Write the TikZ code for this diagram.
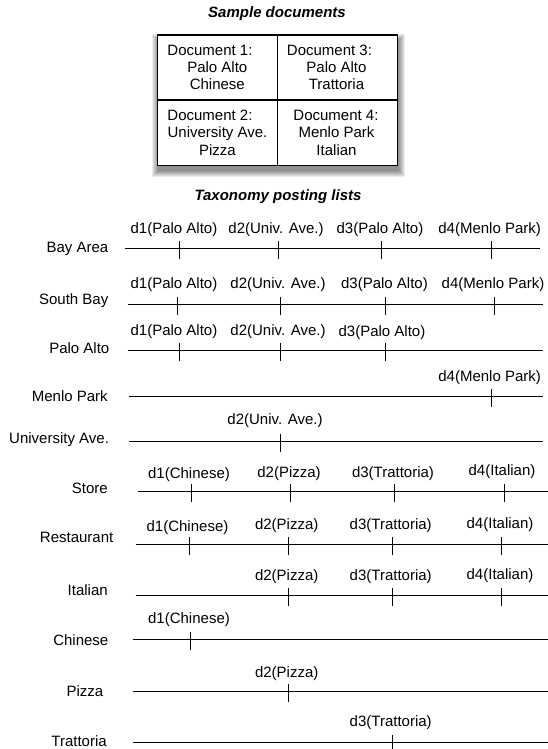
\documentclass[tikz,border=0pt]{standalone}
\usepackage{fontspec}
\setmainfont{Liberation Sans}
\tikzset{
  lbl/.style={font=\fontsize{15}{17}\selectfont, inner sep=0pt, outer sep=0pt},
  rowlbl/.style={lbl, anchor=east},
  celltxt/.style={lbl, anchor=base},
  titletxt/.style={font=\fontsize{15}{17}\selectfont\bfseries\itshape, inner sep=0pt},
  axisline/.style={line width=1pt, black},
  tickmark/.style={line width=1pt, black},
  cellbox/.style={draw, line width=1.2pt, fill=white, inner sep=0pt, minimum width=120pt, minimum height=65pt},
}
\newcommand\PostRow[7]{%
  \node[rowlbl] (#1-name) at (#3,#4) {#2};
  \coordinate (#1-a) at (#5,#7);
  \coordinate (#1-b) at (#6,#7);
  \draw[axisline] (#1-a) -- (#1-b);
}
\newcommand\PostTick[7]{%
  \coordinate (#1-#2-t) at (#3,#4-8);
  \coordinate (#1-#2-u) at (#3,#4+10);
  \draw[tickmark] (#1-#2-t) -- (#1-#2-u);
  \node[lbl] (#1-#2-l) at (#5,#6) {#7};
}
\begin{document}
\begin{tikzpicture}[x=1pt,y=-1pt]
\useasboundingbox (0,0) rectangle (548,749);

% titles
\node[titletxt] (t1) at (277,13.5) {Sample documents};
\node[titletxt] (t2) at (278,196.5) {Taxonomy posting lists};

% shadow
\foreach \k in {0,...,6}
  \fill[black, opacity=0.08] (157.3+1-\k, 35+5-\k) rectangle (397.7+1+\k, 165.7+5.5+\k);

% table cells
\node[cellbox] (c1) at (217.3,67.5) {};
\node[cellbox, minimum width=120.4pt] (c3) at (337.5,67.5) {};
\node[cellbox, minimum height=65.7pt] (c2) at (217.3,132.85) {};
\node[cellbox, minimum width=120.4pt, minimum height=65.7pt] (c4) at (337.5,132.85) {};

\node[celltxt] (c1a) at (210,55.7) {Document 1:};
\node[celltxt] (c1b) at (217.3,72.5) {Palo Alto};
\node[celltxt] (c1c) at (217.3,89.3) {Chinese};
\node[celltxt] (c3a) at (329.5,55.7) {Document 3:};
\node[celltxt] (c3b) at (336.5,72.5) {Palo Alto};
\node[celltxt] (c3c) at (336.5,89.3) {Trattoria};
\node[celltxt] (c2a) at (210,121) {Document 2:};
\node[celltxt] (c2b) at (217.5,138) {University Ave.};
\node[celltxt] (c2c) at (217.5,155) {Pizza};
\node[celltxt] (c4a) at (336,121) {Document 4:};
\node[celltxt] (c4b) at (336.5,138) {Menlo Park};
\node[celltxt] (c4c) at (336.5,155) {Italian};

% posting lists
\PostRow{ba}{Bay Area}{108.3}{248.5}{124.5}{539.5}{248.5}
\PostTick{ba}{d1}{179.5}{248.5}{174}{229.5}{d1(Palo Alto)}
\PostTick{ba}{d2}{278.5}{248.5}{276}{229.5}{d2(Univ. Ave.)}
\PostTick{ba}{d3}{381.5}{248.5}{380}{230}{d3(Palo Alto)}
\PostTick{ba}{d4}{491.5}{248.5}{489.6}{230}{d4(Menlo Park)}

\PostRow{sb}{South Bay}{108.3}{300.5}{127.5}{542.5}{304.5}
\PostTick{sb}{d1}{177.5}{304.5}{174}{285}{d1(Palo Alto)}
\PostTick{sb}{d2}{280.5}{304.5}{278}{285}{d2(Univ. Ave.)}
\PostTick{sb}{d3}{385.5}{304.5}{384.5}{285}{d3(Palo Alto)}
\PostTick{sb}{d4}{494.5}{304.5}{493}{285}{d4(Menlo Park)}

\PostRow{pa}{Palo Alto}{109.3}{348.5}{127.5}{542.5}{350.5}
\PostTick{pa}{d1}{179.5}{350.5}{174}{332}{d1(Palo Alto)}
\PostTick{pa}{d2}{280.5}{350.5}{278}{332}{d2(Univ. Ave.)}
\PostTick{pa}{d3}{385.5}{350.5}{382}{333}{d3(Palo Alto)}

\PostRow{mp}{Menlo Park}{107.7}{396}{128.5}{542.5}{396.5}
\PostTick{mp}{d4}{491.5}{396.5}{489.6}{378}{d4(Menlo Park)}

\PostRow{ua}{University Ave.}{109}{440}{128.5}{542.5}{441.5}
\PostTick{ua}{d2}{280.5}{441.5}{275}{421}{d2(Univ. Ave.)}

\PostRow{st}{Store}{107.7}{488.3}{137.5}{548}{491.5}
\PostTick{st}{d1}{191.5}{491.5}{189}{474.3}{d1(Chinese)}
\PostTick{st}{d2}{290.5}{491.5}{289}{474}{d2(Pizza)}
\PostTick{st}{d3}{394.5}{491.5}{393}{474}{d3(Trattoria)}
\PostTick{st}{d4}{504.5}{491.5}{502}{472}{d4(Italian)}

\PostRow{re}{Restaurant}{113.3}{537}{135.5}{548}{544.5}
\PostTick{re}{d1}{189.5}{544.5}{187.5}{527.3}{d1(Chinese)}
\PostTick{re}{d2}{288.5}{544.5}{286.7}{526}{d2(Pizza)}
\PostTick{re}{d3}{392.5}{544.5}{390.7}{525.7}{d3(Trattoria)}
\PostTick{re}{d4}{501.5}{544.5}{500}{525}{d4(Italian)}

\PostRow{it}{Italian}{107.7}{590}{135.5}{548}{595.5}
\PostTick{it}{d2}{288.5}{595.5}{286.7}{577}{d2(Pizza)}
\PostTick{it}{d3}{392.5}{595.5}{390.7}{577}{d3(Trattoria)}
\PostTick{it}{d4}{501.5}{595.5}{500}{576}{d4(Italian)}

\PostRow{ch}{Chinese}{108.3}{639.7}{132.5}{548}{639.5}
\PostTick{ch}{d1}{190.5}{639.5}{189}{620}{d1(Chinese)}

\PostRow{pz}{Pizza}{103.3}{691}{132.5}{548}{691.5}
\PostTick{pz}{d2}{288.5}{691.5}{286.7}{673.3}{d2(Pizza)}

\PostRow{tr}{Trattoria}{106.7}{741}{132.5}{548}{742.5}
\PostTick{tr}{d3}{392.5}{742.5}{390.7}{722.7}{d3(Trattoria)}
\end{tikzpicture}
\end{document}
